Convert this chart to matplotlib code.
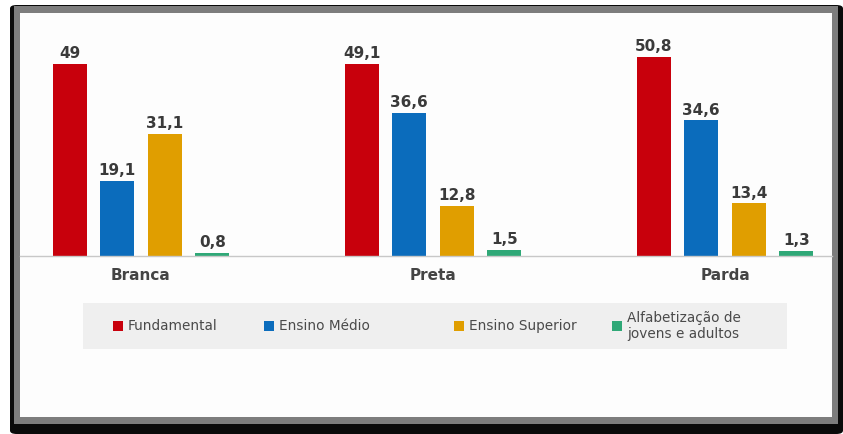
import matplotlib
matplotlib.use("Agg")
import matplotlib.pyplot as plt
from matplotlib.patches import Rectangle, FancyBboxPatch
import numpy as np

plt.rcParams['font.family'] = ['DejaVu Sans']

categories = ["Branca", "Preta", "Parda"]
series_names = ["Fundamental", "Ensino Médio", "Ensino Superior",
                "Alfabetização de\njovens e adultos"]
values = [
    [49.0, 49.1, 50.8],   # Fundamental
    [19.1, 36.6, 34.6],   # Ensino Médio
    [31.1, 12.8, 13.4],   # Ensino Superior
    [0.8, 1.5, 1.3],      # Alfabetização de jovens e adultos
]
value_labels = [
    ["49", "49,1", "50,8"],
    ["19,1", "36,6", "34,6"],
    ["31,1", "12,8", "13,4"],
    ["0,8", "1,5", "1,3"],
]
colors = ["#c8000c", "#0b6cbc", "#e09e00", "#2fa877"]

W, H = 843, 434
fig = plt.figure(figsize=(W / 100, H / 100), dpi=100)
fig.patch.set_facecolor("white")


def fx(px):
    return px / W


def fy(py):
    return 1 - py / H


# picture frame: dark outer edge, grey mat, white panel
fig.add_artist(FancyBboxPatch((fx(10), fy(434)), fx(833), (432 - 3) / H,
                              boxstyle="round,pad=0,rounding_size=0.008",
                              transform=fig.transFigure, facecolor="#0a0a0a",
                              edgecolor="none", zorder=0))
fig.add_artist(Rectangle((fx(14), fy(424)), fx(824), (424 - 6) / H,
                         transform=fig.transFigure, facecolor="#7d7d7d",
                         edgecolor="none", zorder=0))
fig.add_artist(Rectangle((fx(20), fy(417)), fx(812), (417 - 13) / H,
                         transform=fig.transFigure, facecolor="#fdfdfd",
                         edgecolor="none", zorder=0))

# chart axes
ymax = 55.0
px_per_unit = 3.92
ax_bottom_px = 256
ax_top_px = ax_bottom_px - ymax * px_per_unit
ax = fig.add_axes([fx(20), fy(ax_bottom_px), fx(812), (ax_bottom_px - ax_top_px) / H])
ax.set_facecolor("none")

group_px = 292.0
centers_px = [141.0, 434.0, 725.0]
x = np.arange(len(categories))
ax.set_xlim((20 - centers_px[0]) / group_px, (832 - centers_px[0]) / group_px)
ax.set_ylim(0, ymax)

bar_w = 34 / group_px
step = 47.5 / group_px
offsets = (np.arange(4) - 1.5) * step

for i, (vals, labs, c) in enumerate(zip(values, value_labels, colors)):
    bars = ax.bar(x + offsets[i], vals, width=bar_w, color=c, edgecolor="none", zorder=2)
    for b, lab in zip(bars, labs):
        ax.annotate(lab, (b.get_x() + b.get_width() / 2, b.get_height()),
                    xytext=(0, 2), textcoords="offset points", ha="center", va="bottom",
                    fontsize=11, fontweight="bold", color="#3a3a3a")

for s in ["top", "right", "left"]:
    ax.spines[s].set_visible(False)
ax.spines["bottom"].set_color("#c8c8c8")
ax.spines["bottom"].set_linewidth(1.0)
ax.set_yticks([])
ax.set_xticks(x)
ax.set_xticklabels(categories, fontsize=11, fontweight="bold", color="#444444")
ax.tick_params(axis="x", length=0, pad=9)

# legend band
fig.add_artist(Rectangle((fx(83), fy(349)), fx(704), 46 / H,
                         transform=fig.transFigure, facecolor="#efefef",
                         edgecolor="none", zorder=1))
legend_x = [113, 264, 454, 612]
for lx, name, c in zip(legend_x, series_names, colors):
    fig.add_artist(Rectangle((fx(lx), fy(331)), fx(10), 10 / H,
                             transform=fig.transFigure, facecolor=c,
                             edgecolor="none", zorder=2))
    fig.text(fx(lx + 15), fy(326), name, fontsize=9.8, color="#4a4a4a",
             ha="left", va="center", linespacing=1.15, zorder=3)

fig.savefig("out.png", dpi=100)
